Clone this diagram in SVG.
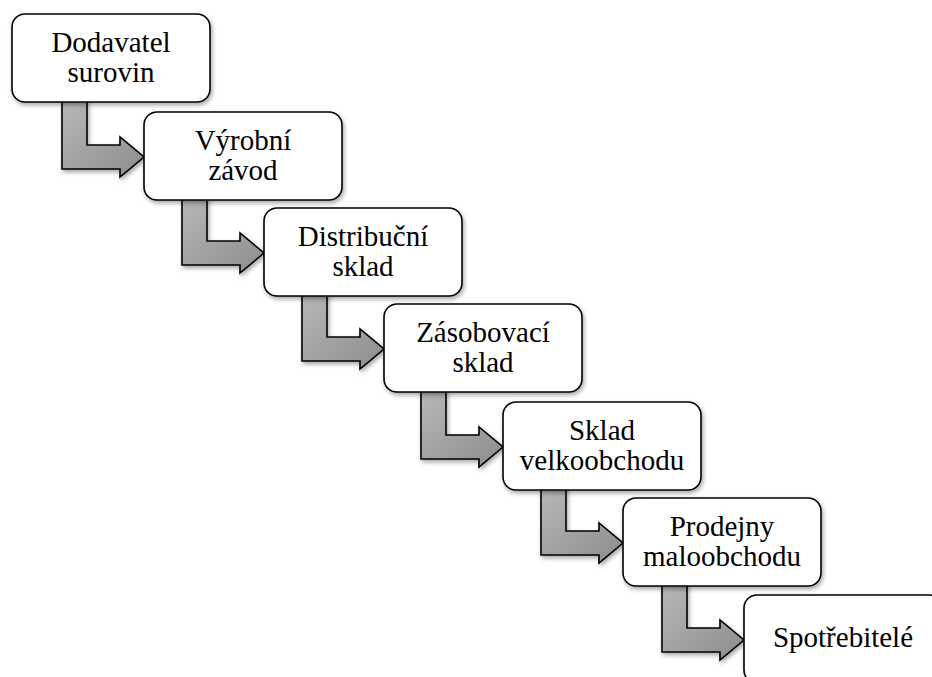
<svg xmlns="http://www.w3.org/2000/svg" width="932" height="677" viewBox="0 0 932 677">
<defs>
<filter id="sh" x="-10%" y="-10%" width="125%" height="130%">
<feDropShadow dx="1.5" dy="2.5" stdDeviation="2" flood-color="#000" flood-opacity="0.35"/>
</filter>
<linearGradient id="ag" x1="0" y1="0" x2="1" y2="1">
<stop offset="0" stop-color="#b8b8b8"/>
<stop offset="1" stop-color="#8c8c8c"/>
</linearGradient>
</defs>
<style>
.box{fill:#fff;stroke:#000;stroke-width:1.6;filter:url(#sh)}
.arr{fill:url(#ag);stroke:#000;stroke-width:1.6;stroke-linejoin:miter;filter:url(#sh)}
.inner{fill:none;stroke:#d0d0d0;stroke-width:3;opacity:0.6}
text{font-family:"Liberation Serif","Times New Roman",serif;font-size:29px;fill:#000;text-anchor:middle}
</style>
<rect width="932" height="677" fill="#fff"/>
<g id="connectors">
<path class="arr" d="M62,100 L87,100 L87,145 L120,145 L120,137 L144,157 L120,177 L120,169 L62,169 Z"/>
<path class="arr" d="M182,196 L207,196 L207,241 L240,241 L240,233 L264,253 L240,273 L240,265 L182,265 Z"/>
<path class="arr" d="M302,292 L327,292 L327,337 L360,337 L360,329 L384,349 L360,369 L360,361 L302,361 Z"/>
<path class="arr" d="M421,390 L446,390 L446,435 L479,435 L479,427 L503,447 L479,467 L479,459 L421,459 Z"/>
<path class="arr" d="M541,486 L566,486 L566,531 L599,531 L599,523 L623,543 L599,563 L599,555 L541,555 Z"/>
<path class="arr" d="M662,583 L687,583 L687,628 L720,628 L720,620 L744,640 L720,660 L720,652 L662,652 Z"/>
</g>
<g id="n1">
<rect class="box" x="12" y="14" width="198" height="88" rx="13"/>
<text x="111" y="52">Dodavatel</text>
<text x="111" y="82">surovin</text>
</g>
<g id="n2">
<rect class="box" x="144" y="112" width="198" height="88" rx="13"/>
<text x="243" y="150">Výrobní</text>
<text x="243" y="180">závod</text>
</g>
<g id="n3">
<rect class="box" x="264" y="208" width="198" height="88" rx="13"/>
<text x="363" y="246">Distribuční</text>
<text x="363" y="276">sklad</text>
</g>
<g id="n4">
<rect class="box" x="384" y="304" width="198" height="88" rx="13"/>
<text x="483" y="342">Zásobovací</text>
<text x="483" y="372">sklad</text>
</g>
<g id="n5">
<rect class="box" x="503" y="402" width="198" height="88" rx="13"/>
<text x="602" y="440">Sklad</text>
<text x="602" y="470">velkoobchodu</text>
</g>
<g id="n6">
<rect class="box" x="623" y="498" width="198" height="88" rx="13"/>
<text x="722" y="536">Prodejny</text>
<text x="722" y="566">maloobchodu</text>
</g>
<g id="n7">
<rect class="box" x="744" y="595" width="198" height="88" rx="13"/>
<text x="843" y="647">Spotřebitelé</text>
</g>
</svg>
